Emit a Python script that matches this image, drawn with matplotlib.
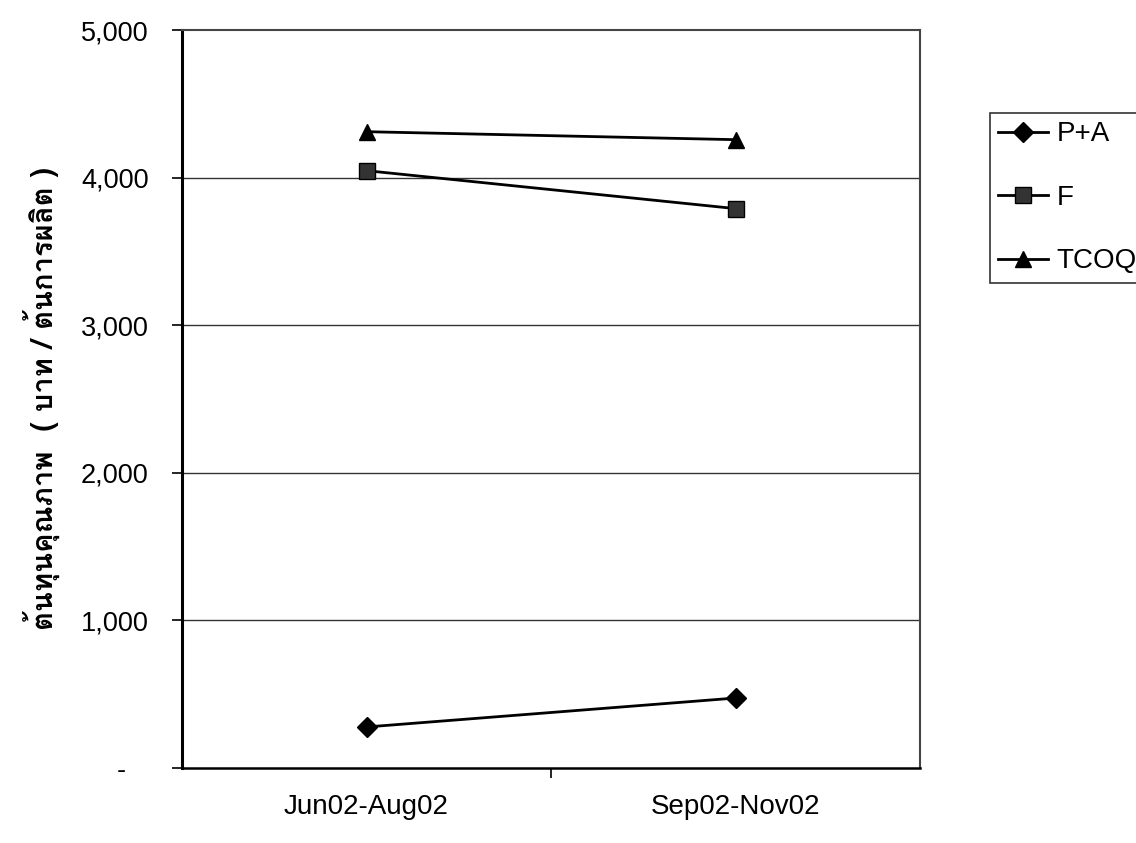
import matplotlib
matplotlib.use("Agg")
import matplotlib.pyplot as plt
from matplotlib import font_manager as fm
from matplotlib.ft2font import FT2Font
from matplotlib.ticker import FuncFormatter, FixedLocator

# ── Data ────────────────────────────────────────────────────────
periods = ["Jun02-Aug02", "Sep02-Nov02"]
pa      = [278, 474]
f_cost  = [4047, 3790]
tcoq    = [4311, 4257]
y_label = "ต้นทุนคุณภาพ  ( บาท / ต้นการผลิต )"


def find_thai_font():
    # look for any installed font with Thai glyphs
    names = []
    for f in fm.fontManager.ttflist:
        try:
            cmap = FT2Font(f.fname).get_charmap()
        except Exception:
            continue
        if 0x0E15 in cmap and 0x0E49 in cmap:
            names.append(f.name)
    return names[0] if names else None


thai_font = find_thai_font()
plt.rcParams["font.family"] = ["Liberation Sans", "DejaVu Sans"]

fig = plt.figure(figsize=(11.36, 8.43), dpi=100)
ax = fig.add_axes([182 / 1136, 1 - 768 / 843, (920 - 182) / 1136, (768 - 30) / 843])

x = list(range(len(periods)))
ax.plot(x, pa, color="black", lw=2, marker="D", ms=10, mfc="black", mec="black", label="P+A")
ax.plot(x, f_cost, color="black", lw=2, marker="s", ms=11, mfc="#333333", mec="black", label="F")
ax.plot(x, tcoq, color="black", lw=2, marker="^", ms=11, mfc="black", mec="black", label="TCOQ")

ax.set_xlim(-0.5, 1.5)
ax.set_ylim(0, 5000)

# y axis
ax.yaxis.set_major_locator(FixedLocator([0, 1000, 2000, 3000, 4000, 5000]))
ax.yaxis.set_major_formatter(FuncFormatter(lambda v, p: "-   " if v == 0 else f"{v:,.0f}"))
ax.tick_params(axis="y", direction="out", length=7, width=1.2, pad=17, labelsize=19.5)
for yv in [1000, 2000, 3000, 4000]:
    ax.axhline(yv, color="#333333", lw=1.0, zorder=0)

# x axis: labels at categories, tick mark between them
ax.xaxis.set_major_locator(FixedLocator([0.5]))
ax.xaxis.set_major_formatter(FuncFormatter(lambda v, p: ""))
ax.xaxis.set_minor_locator(FixedLocator(x))
ax.set_xticklabels(periods, minor=True)
ax.tick_params(axis="x", which="major", direction="out", length=7, width=1.2)
ax.tick_params(axis="x", which="minor", length=0, pad=19, labelsize=20)

ax.spines["left"].set_linewidth(2.2)
ax.spines["bottom"].set_linewidth(1.8)
ax.spines["top"].set_color("#444444")
ax.spines["right"].set_color("#444444")
ax.spines["top"].set_linewidth(1.5)
ax.spines["right"].set_linewidth(1.5)

ax.text((42 - 182) / 738, 0.5, y_label, transform=ax.transAxes, rotation=90,
        ha="center", va="center", fontsize=21, fontweight="bold",
        family=[thai_font, "DejaVu Sans"] if thai_font else ["DejaVu Sans"])

leg = fig.legend(loc="upper left", bbox_to_anchor=(990 / 1136, 1 - 113 / 843),
                 frameon=True, fancybox=False, edgecolor="black", fontsize=20,
                 labelspacing=1.35, handlelength=1.8, handletextpad=0.3,
                 borderpad=0.3, borderaxespad=0)
leg.get_frame().set_linewidth(1.2)

fig.savefig("out.png", dpi=100)
